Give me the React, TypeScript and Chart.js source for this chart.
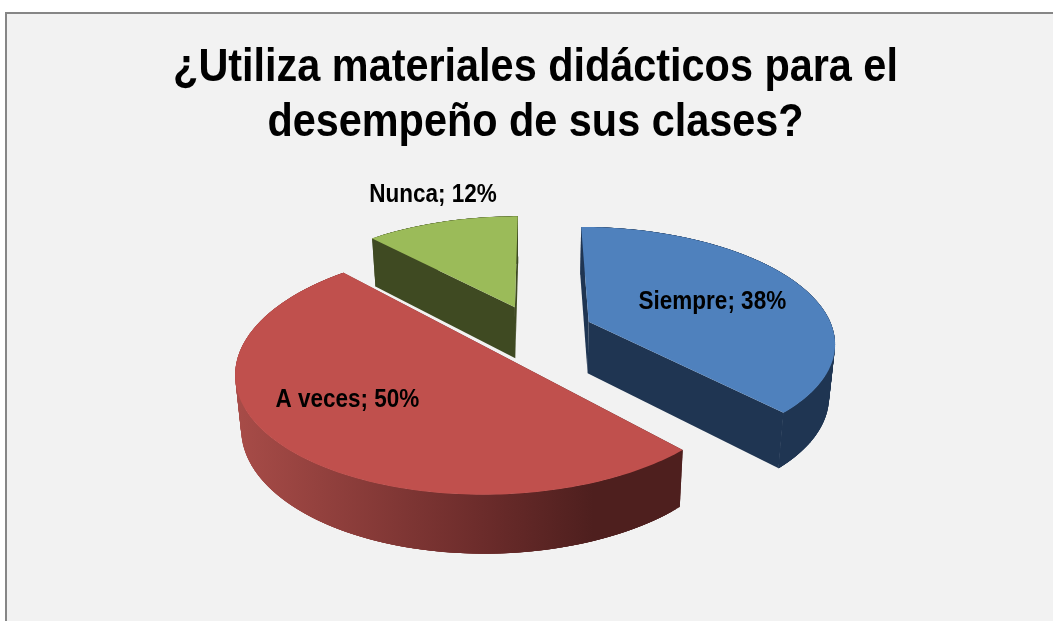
import React, { useEffect, useRef } from "react";
import { Chart, registerables } from "chart.js";

Chart.register(...registerables);

const titleLines = ["¿Utiliza materiales didácticos para el", "desempeño de sus clases?"];
const categories = ["Siempre", "A veces", "Nunca"];
const percentages = [38, 50, 12];
const topColors = ["#4f81bd", "#c0504d", "#9bbb59"];
const wallStops: string[][] = [
  ["#1f3552", "#1f3552"],
  ["#a84c48", "#4e1f1e"],
  ["#3f4a22", "#3f4a22"],
];
const labelRadii = [0.57, 0.65, 1.37];
const labelTurns = [1.6, 7.2, 3];

const FONT = "'Liberation Sans', Arial, sans-serif";
const PERSPECTIVE = 0.166;
const TILT = 113.4;
const SQUEEZE = 0.9;

const pie3d = {
  id: "pie3d",
  beforeDraw(chart: any) {
    // the title is the only box layer: narrow it the way the reference's is
    const ctx = chart.ctx;
    const cx = (chart.chartArea.left + chart.chartArea.right) / 2;
    ctx.save();
    ctx.translate(cx, 0);
    ctx.scale(SQUEEZE, 1);
    ctx.translate(-cx, 0);
  },
  beforeDatasetsDraw(chart: any) {
    chart.ctx.restore();
  },
  beforeDatasetDraw() {
    return false;
  },
  afterDatasetsDraw(chart: any) {
    const ctx: CanvasRenderingContext2D = chart.ctx;
    const arcs = chart.getDatasetMeta(0).data as any[];
    arcs.forEach((el, i) => {
      const R = el.outerRadius;
      const mid = (el.startAngle + el.endAngle) / 2;
      const off = el.options.offset / R;
      const ou = Math.cos(mid) * off;
      const ov = Math.sin(mid) * off;
      const project = (u: number, v: number, bottom: boolean) => {
        const w = 1 - PERSPECTIVE * v;
        let x = el.x + (R * u) / w;
        let y = el.y + (TILT * v) / w;
        if (bottom) {
          y += 22.6 + 29.4 / w;
          x = el.x + (x - el.x) * 0.98;
        }
        return [x, y];
      };
      const arc: number[][] = [];
      const steps = Math.ceil((el.endAngle - el.startAngle) / 0.02);
      for (let s = 0; s <= steps; s++) {
        const a = el.startAngle + ((el.endAngle - el.startAngle) * s) / steps;
        arc.push([ou + Math.cos(a), ov + Math.sin(a)]);
      }
      const apex = [ou, ov];
      const rim = [apex, ...arc];
      const xs = rim.map((p) => project(p[0], p[1], false)[0]);
      const grad = ctx.createLinearGradient(Math.min(...xs), 0, Math.max(...xs), 0);
      const flat = wallStops[i][0] === wallStops[i][1];
      grad.addColorStop(0, wallStops[i][0]);
      grad.addColorStop(0.55, flat ? wallStops[i][0] : "#6c2c2b");
      grad.addColorStop(0.8, wallStops[i][1]);
      grad.addColorStop(1, wallStops[i][1]);
      const wall = (a: number[], b: number[]) => {
        const q = [project(a[0], a[1], false), project(b[0], b[1], false), project(b[0], b[1], true), project(a[0], a[1], true)];
        ctx.beginPath();
        q.forEach((p, n) => (n ? ctx.lineTo(p[0], p[1]) : ctx.moveTo(p[0], p[1])));
        ctx.closePath();
        ctx.fill();
      };
      ctx.save();
      ctx.fillStyle = grad;
      wall(apex, arc[0]);
      wall(apex, arc[arc.length - 1]);
      for (let k = 0; k < arc.length - 1; k++) {
        wall(arc[k], arc[Math.min(k + 4, arc.length - 1)]);
      }
      ctx.fillStyle = el.options.backgroundColor;
      ctx.beginPath();
      rim.forEach((p, n) => {
        const q = project(p[0], p[1], false);
        if (n) ctx.lineTo(q[0], q[1]);
        else ctx.moveTo(q[0], q[1]);
      });
      ctx.closePath();
      ctx.fill();
      ctx.restore();
    });
    arcs.forEach((el, i) => {
      const R = el.outerRadius;
      const mid = (el.startAngle + el.endAngle) / 2;
      const off = el.options.offset / R;
      const turned = mid + (labelTurns[i] * Math.PI) / 180;
      const u = Math.cos(mid) * off + Math.cos(turned) * labelRadii[i];
      const v = Math.sin(mid) * off + Math.sin(turned) * labelRadii[i];
      const w = 1 - PERSPECTIVE * v;
      ctx.save();
      ctx.translate(el.x + (R * u) / w, el.y + (TILT * v) / w + 1);
      ctx.scale(SQUEEZE, 1);
      ctx.fillStyle = "#000000";
      ctx.font = `bold 25px ${FONT}`;
      ctx.textAlign = "center";
      ctx.textBaseline = "middle";
      ctx.fillText(`${categories[i]}; ${percentages[i]}%`, 0, 0);
      ctx.restore();
    });
  },
};

export default function App() {
  const ref = useRef<HTMLCanvasElement>(null);
  useEffect(() => {
    const chart = new Chart(ref.current!, {
      type: "pie",
      data: {
        labels: categories,
        datasets: [
          {
            data: percentages,
            backgroundColor: topColors,
            borderWidth: 0,
            offset: 58,
          },
        ],
      },
      options: {
        responsive: false,
        animation: false,
        radius: 245,
        layout: { padding: { left: 18, right: 0, top: 0, bottom: 116.8 } },
        plugins: {
          legend: { display: false },
          tooltip: { enabled: false },
          title: {
            display: true,
            text: titleLines,
            color: "#000000",
            font: { family: FONT, size: 46, weight: "bold", lineHeight: 1.2 },
            padding: { top: 41, bottom: 7.2 },
          },
        },
      },
      plugins: [pie3d],
    } as any);
    return () => chart.destroy();
  }, []);
  return (
    <div style={{ position: "fixed", left: 0, top: 0, width: 1053, height: 621, background: "#ffffff", overflow: "hidden" }}>
      <div
        style={{
          position: "absolute",
          left: 5,
          top: 12,
          right: -4,
          bottom: -4,
          background: "#f2f2f2",
          borderLeft: "2px solid #868686",
          borderTop: "2px solid #868686",
        }}
      />
      <canvas ref={ref} width={1053} height={621} style={{ position: "absolute", left: 0, top: 0, display: "block" }} />
    </div>
  );
}
